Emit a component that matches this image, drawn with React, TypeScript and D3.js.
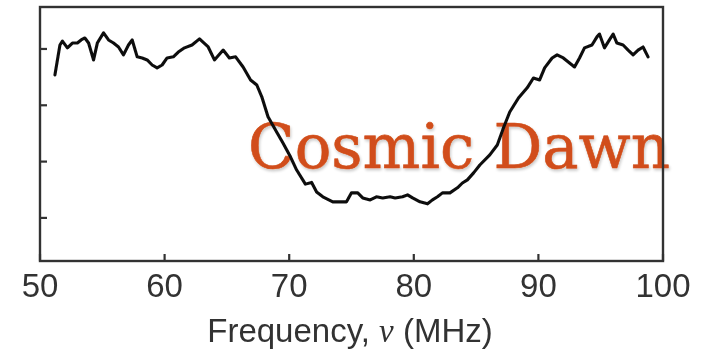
import React from "react";
import * as d3 from "d3";

// Sky-averaged brightness temperature spectrum (K) versus frequency (MHz)
const frequencies = [
  51.2, 51.6, 51.8, 52.2, 52.6, 53.0, 53.3, 53.6, 53.9, 54.3, 54.6, 55.1, 55.5, 55.9, 56.3, 56.7,
  57.1, 57.4, 57.8, 58.2, 58.6, 59.0, 59.4, 59.8, 60.2, 60.7, 61.1, 61.6, 62.2, 62.8, 63.5, 64.0,
  64.7, 65.2, 65.7, 66.3, 66.9, 67.4, 67.8, 68.3, 68.9, 69.5, 70.1, 70.6, 71.3, 71.8, 72.2, 72.7,
  73.5, 74.2, 74.6, 75.0, 75.5, 75.9, 76.5, 77.0, 77.5, 78.1, 78.5, 79.1, 79.5, 79.9, 80.5, 81.1,
  81.5, 81.9, 82.3, 82.9, 83.5, 83.9, 84.3, 84.8, 85.3, 86.1, 86.7, 87.2, 87.7, 88.4, 89.1, 89.6,
  90.1, 90.5, 91.1, 91.5, 92.0, 92.5, 92.9, 93.3, 93.7, 94.3, 94.7, 94.9, 95.3, 95.7, 96.0, 96.3,
  96.8, 97.2, 97.6, 98.0, 98.4, 98.8,
];

const temperatures = [
  -0.092, 0.014, 0.028, 0.004, 0.021, 0.021, 0.032, 0.039, 0.021, -0.039, 0.021, 0.057, 0.032, 0.021, 0.007, -0.021,
  0.014, 0.032, -0.028, -0.032, -0.039, -0.057, -0.067, -0.057, -0.032, -0.028, -0.011, 0.004, 0.014, 0.036, 0.007, -0.039,
  -0.004, -0.032, -0.028, -0.064, -0.11, -0.128, -0.17, -0.241, -0.288, -0.334, -0.383, -0.43, -0.48, -0.474, -0.508, -0.525,
  -0.543, -0.543, -0.543, -0.511, -0.511, -0.529, -0.536, -0.525, -0.529, -0.525, -0.529, -0.525, -0.518, -0.529, -0.543, -0.55,
  -0.536, -0.525, -0.511, -0.511, -0.493, -0.476, -0.465, -0.44, -0.412, -0.376, -0.341, -0.28, -0.224, -0.174, -0.138, -0.103,
  -0.11, -0.067, -0.032, -0.021, -0.032, -0.05, -0.064, -0.032, 0.004, 0.014, 0.043, 0.053, 0.004, 0.032, 0.053, 0.021,
  0.014, -0.004, -0.021, -0.004, 0.007, -0.028,
];

const xTicks = [50, 60, 70, 80, 90, 100];
const yTicks = [0, -0.2, -0.4, -0.6];

const xDomain: [number, number] = [50, 100];
const yDomain: [number, number] = [-0.753, 0.149];

const titleText = "Cosmic Dawn";

export default function App() {
  const width = 713;
  const height = 355;
  const plot = { left: 40, right: 663, top: 7, bottom: 261 };

  const x = d3.scaleLinear().domain(xDomain).range([plot.left, plot.right]);
  const y = d3.scaleLinear().domain(yDomain).range([plot.bottom, plot.top]);

  const points = frequencies.map((f, i) => [f, temperatures[i]] as [number, number]);
  const line = d3
    .line<[number, number]>()
    .x((d) => x(d[0]))
    .y((d) => y(d[1]))
    .curve(d3.curveLinear);

  const axisColor = "#333";
  const tickLen = 7;
  const labelFont = "'Liberation Sans', Arial, Helvetica, sans-serif";

  return (
    <svg
      width={width}
      height={height}
      style={{ position: "absolute", left: 0, top: 0, background: "#fff" }}
    >
      <defs>
        <filter id="soft" x="-5%" y="-5%" width="110%" height="110%">
          <feGaussianBlur stdDeviation="0.45" />
        </filter>
        <filter id="titleShadow" x="-5%" y="-20%" width="115%" height="150%">
          <feGaussianBlur in="SourceAlpha" stdDeviation="1.5" />
          <feOffset dx="1" dy="1.8" result="off" />
          <feComponentTransfer>
            <feFuncA type="linear" slope="0.22" />
          </feComponentTransfer>
          <feMerge>
            <feMergeNode />
            <feMergeNode in="SourceGraphic" />
          </feMerge>
        </filter>
      </defs>

      <text
        x={248}
        y={168}
        fontFamily="'DejaVu Serif', serif"
        fontSize={61}
        fill="#d14e1a"
        stroke="#d14e1a"
        strokeWidth={0.6}
        textLength={422}
        lengthAdjust="spacingAndGlyphs"
        filter="url(#titleShadow)"
      >
        {titleText}
      </text>

      <g filter="url(#soft)">
        <path
          d={line(points) ?? ""}
          fill="none"
          stroke="#111"
          strokeWidth={3.1}
          strokeLinejoin="round"
          strokeLinecap="round"
        />

        <rect
          x={plot.left}
          y={plot.top}
          width={plot.right - plot.left}
          height={plot.bottom - plot.top}
          fill="none"
          stroke={axisColor}
          strokeWidth={2.4}
        />

        {yTicks.map((t) => (
          <line
            key={`y${t}`}
            x1={plot.left}
            x2={plot.left + tickLen}
            y1={y(t)}
            y2={y(t)}
            stroke={axisColor}
            strokeWidth={2.2}
          />
        ))}

        {xTicks.map((t) => (
          <line
            key={`x${t}`}
            x1={x(t)}
            x2={x(t)}
            y1={plot.bottom}
            y2={plot.bottom - tickLen}
            stroke={axisColor}
            strokeWidth={2.2}
          />
        ))}

        {xTicks.map((t) => (
          <text
            key={`xl${t}`}
            x={x(t)}
            y={297}
            textAnchor="middle"
            fontFamily={labelFont}
            fontSize={33}
            fill="#333"
          >
            {t}
          </text>
        ))}

        <text
          x={350}
          y={342}
          textAnchor="middle"
          fontFamily={labelFont}
          fontSize={33}
          fill="#333"
        >
          Frequency,{" "}
          <tspan fontStyle="italic" fontFamily="'Liberation Serif', serif">
            ν
          </tspan>{" "}
          (MHz)
        </text>
      </g>
    </svg>
  );
}
